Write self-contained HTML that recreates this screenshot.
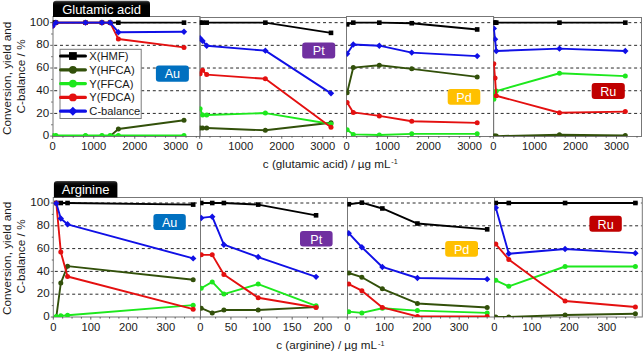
<!DOCTYPE html><html><head><meta charset="utf-8"><title>chart</title>
<style>html,body{margin:0;padding:0;background:#fff;}svg{display:block;}text{font-family:"Liberation Sans", sans-serif;}</style></head><body>
<svg width="644" height="353" viewBox="0 0 644 353">
<defs><linearGradient id="tg" x1="0" y1="0" x2="0" y2="1"><stop offset="0" stop-color="#555"/><stop offset="0.12" stop-color="#111"/><stop offset="0.3" stop-color="#000"/><stop offset="1" stop-color="#000"/></linearGradient></defs>
<rect width="644" height="353" fill="#fff"/>
<clipPath id="c00"><rect x="52.7" y="17" width="147" height="119.1"/></clipPath>
<clipPath id="c01"><rect x="199.7" y="17" width="146.8" height="119.1"/></clipPath>
<clipPath id="c02"><rect x="346.5" y="17" width="146.9" height="119.1"/></clipPath>
<clipPath id="c03"><rect x="493.4" y="17" width="148" height="119.1"/></clipPath>
<line x1="54.2" y1="113.41" x2="199.2" y2="113.41" stroke="#2a2a2a" stroke-width="1" stroke-dasharray="3 2.8"/>
<line x1="54.2" y1="90.72" x2="199.2" y2="90.72" stroke="#2a2a2a" stroke-width="1" stroke-dasharray="3 2.8"/>
<line x1="54.2" y1="68.03" x2="199.2" y2="68.03" stroke="#2a2a2a" stroke-width="1" stroke-dasharray="3 2.8"/>
<line x1="54.2" y1="45.34" x2="199.2" y2="45.34" stroke="#2a2a2a" stroke-width="1" stroke-dasharray="3 2.8"/>
<line x1="54.2" y1="22.65" x2="199.2" y2="22.65" stroke="#2a2a2a" stroke-width="1" stroke-dasharray="3 2.8"/>
<line x1="201.2" y1="113.41" x2="346" y2="113.41" stroke="#2a2a2a" stroke-width="1" stroke-dasharray="3 2.8"/>
<line x1="201.2" y1="90.72" x2="346" y2="90.72" stroke="#2a2a2a" stroke-width="1" stroke-dasharray="3 2.8"/>
<line x1="201.2" y1="68.03" x2="346" y2="68.03" stroke="#2a2a2a" stroke-width="1" stroke-dasharray="3 2.8"/>
<line x1="201.2" y1="45.34" x2="346" y2="45.34" stroke="#2a2a2a" stroke-width="1" stroke-dasharray="3 2.8"/>
<line x1="201.2" y1="22.65" x2="346" y2="22.65" stroke="#2a2a2a" stroke-width="1" stroke-dasharray="3 2.8"/>
<line x1="348" y1="113.41" x2="492.9" y2="113.41" stroke="#2a2a2a" stroke-width="1" stroke-dasharray="3 2.8"/>
<line x1="348" y1="90.72" x2="492.9" y2="90.72" stroke="#2a2a2a" stroke-width="1" stroke-dasharray="3 2.8"/>
<line x1="348" y1="68.03" x2="492.9" y2="68.03" stroke="#2a2a2a" stroke-width="1" stroke-dasharray="3 2.8"/>
<line x1="348" y1="45.34" x2="492.9" y2="45.34" stroke="#2a2a2a" stroke-width="1" stroke-dasharray="3 2.8"/>
<line x1="348" y1="22.65" x2="492.9" y2="22.65" stroke="#2a2a2a" stroke-width="1" stroke-dasharray="3 2.8"/>
<line x1="494.9" y1="113.41" x2="640.9" y2="113.41" stroke="#2a2a2a" stroke-width="1" stroke-dasharray="3 2.8"/>
<line x1="494.9" y1="90.72" x2="640.9" y2="90.72" stroke="#2a2a2a" stroke-width="1" stroke-dasharray="3 2.8"/>
<line x1="494.9" y1="68.03" x2="640.9" y2="68.03" stroke="#2a2a2a" stroke-width="1" stroke-dasharray="3 2.8"/>
<line x1="494.9" y1="45.34" x2="640.9" y2="45.34" stroke="#2a2a2a" stroke-width="1" stroke-dasharray="3 2.8"/>
<line x1="494.9" y1="22.65" x2="640.9" y2="22.65" stroke="#2a2a2a" stroke-width="1" stroke-dasharray="3 2.8"/>
<rect x="53" y="16.5" width="147" height="120" fill="none" stroke="#777777" stroke-width="1"/>
<rect x="200" y="17.5" width="146.5" height="119" fill="none" stroke="#777777" stroke-width="1"/>
<rect x="346.5" y="16.5" width="147.1" height="120" fill="none" stroke="#777777" stroke-width="1"/>
<rect x="493.6" y="17.5" width="147.9" height="119" fill="none" stroke="#777777" stroke-width="1"/>
<line x1="50.2" y1="136.1" x2="52.7" y2="136.1" stroke="#555" stroke-width="0.9"/>
<line x1="51.2" y1="124.75" x2="52.7" y2="124.75" stroke="#555" stroke-width="0.9"/>
<line x1="50.2" y1="113.41" x2="52.7" y2="113.41" stroke="#555" stroke-width="0.9"/>
<line x1="51.2" y1="102.06" x2="52.7" y2="102.06" stroke="#555" stroke-width="0.9"/>
<line x1="50.2" y1="90.72" x2="52.7" y2="90.72" stroke="#555" stroke-width="0.9"/>
<line x1="51.2" y1="79.38" x2="52.7" y2="79.38" stroke="#555" stroke-width="0.9"/>
<line x1="50.2" y1="68.03" x2="52.7" y2="68.03" stroke="#555" stroke-width="0.9"/>
<line x1="51.2" y1="56.69" x2="52.7" y2="56.69" stroke="#555" stroke-width="0.9"/>
<line x1="50.2" y1="45.34" x2="52.7" y2="45.34" stroke="#555" stroke-width="0.9"/>
<line x1="51.2" y1="34" x2="52.7" y2="34" stroke="#555" stroke-width="0.9"/>
<line x1="50.2" y1="22.65" x2="52.7" y2="22.65" stroke="#555" stroke-width="0.9"/>
<text x="49.1" y="139.2" font-size="11.6" text-anchor="end" fill="#1a1a1a">0</text>
<text x="49.1" y="116.51" font-size="11.6" text-anchor="end" fill="#1a1a1a">20</text>
<text x="49.1" y="93.82" font-size="11.6" text-anchor="end" fill="#1a1a1a">40</text>
<text x="49.1" y="71.13" font-size="11.6" text-anchor="end" fill="#1a1a1a">60</text>
<text x="49.1" y="48.44" font-size="11.6" text-anchor="end" fill="#1a1a1a">80</text>
<text x="49.1" y="25.75" font-size="11.6" text-anchor="end" fill="#1a1a1a">100</text>
<line x1="52.7" y1="136.1" x2="52.7" y2="138.7" stroke="#555" stroke-width="0.9"/>
<line x1="62.96" y1="136.1" x2="62.96" y2="137.7" stroke="#555" stroke-width="0.9"/>
<line x1="73.22" y1="136.1" x2="73.22" y2="137.7" stroke="#555" stroke-width="0.9"/>
<line x1="83.47" y1="136.1" x2="83.47" y2="137.7" stroke="#555" stroke-width="0.9"/>
<line x1="93.73" y1="136.1" x2="93.73" y2="138.7" stroke="#555" stroke-width="0.9"/>
<line x1="103.99" y1="136.1" x2="103.99" y2="137.7" stroke="#555" stroke-width="0.9"/>
<line x1="114.25" y1="136.1" x2="114.25" y2="137.7" stroke="#555" stroke-width="0.9"/>
<line x1="124.5" y1="136.1" x2="124.5" y2="137.7" stroke="#555" stroke-width="0.9"/>
<line x1="134.76" y1="136.1" x2="134.76" y2="138.7" stroke="#555" stroke-width="0.9"/>
<line x1="145.02" y1="136.1" x2="145.02" y2="137.7" stroke="#555" stroke-width="0.9"/>
<line x1="155.27" y1="136.1" x2="155.27" y2="137.7" stroke="#555" stroke-width="0.9"/>
<line x1="165.53" y1="136.1" x2="165.53" y2="137.7" stroke="#555" stroke-width="0.9"/>
<line x1="175.79" y1="136.1" x2="175.79" y2="138.7" stroke="#555" stroke-width="0.9"/>
<line x1="186.05" y1="136.1" x2="186.05" y2="137.7" stroke="#555" stroke-width="0.9"/>
<line x1="196.31" y1="136.1" x2="196.31" y2="137.7" stroke="#555" stroke-width="0.9"/>
<text x="52.7" y="150.3" font-size="11.2" text-anchor="middle" fill="#1a1a1a">0</text>
<text x="93.73" y="150.3" font-size="11.2" text-anchor="middle" fill="#1a1a1a">1000</text>
<text x="134.76" y="150.3" font-size="11.2" text-anchor="middle" fill="#1a1a1a">2000</text>
<text x="175.79" y="150.3" font-size="11.2" text-anchor="middle" fill="#1a1a1a">3000</text>
<line x1="199.7" y1="136.1" x2="199.7" y2="138.7" stroke="#555" stroke-width="0.9"/>
<line x1="209.96" y1="136.1" x2="209.96" y2="137.7" stroke="#555" stroke-width="0.9"/>
<line x1="220.21" y1="136.1" x2="220.21" y2="137.7" stroke="#555" stroke-width="0.9"/>
<line x1="230.47" y1="136.1" x2="230.47" y2="137.7" stroke="#555" stroke-width="0.9"/>
<line x1="240.73" y1="136.1" x2="240.73" y2="138.7" stroke="#555" stroke-width="0.9"/>
<line x1="250.99" y1="136.1" x2="250.99" y2="137.7" stroke="#555" stroke-width="0.9"/>
<line x1="261.25" y1="136.1" x2="261.25" y2="137.7" stroke="#555" stroke-width="0.9"/>
<line x1="271.5" y1="136.1" x2="271.5" y2="137.7" stroke="#555" stroke-width="0.9"/>
<line x1="281.76" y1="136.1" x2="281.76" y2="138.7" stroke="#555" stroke-width="0.9"/>
<line x1="292.02" y1="136.1" x2="292.02" y2="137.7" stroke="#555" stroke-width="0.9"/>
<line x1="302.27" y1="136.1" x2="302.27" y2="137.7" stroke="#555" stroke-width="0.9"/>
<line x1="312.53" y1="136.1" x2="312.53" y2="137.7" stroke="#555" stroke-width="0.9"/>
<line x1="322.79" y1="136.1" x2="322.79" y2="138.7" stroke="#555" stroke-width="0.9"/>
<line x1="333.05" y1="136.1" x2="333.05" y2="137.7" stroke="#555" stroke-width="0.9"/>
<line x1="343.3" y1="136.1" x2="343.3" y2="137.7" stroke="#555" stroke-width="0.9"/>
<text x="199.7" y="150.3" font-size="11.2" text-anchor="middle" fill="#1a1a1a">0</text>
<text x="240.73" y="150.3" font-size="11.2" text-anchor="middle" fill="#1a1a1a">1000</text>
<text x="281.76" y="150.3" font-size="11.2" text-anchor="middle" fill="#1a1a1a">2000</text>
<text x="322.79" y="150.3" font-size="11.2" text-anchor="middle" fill="#1a1a1a">3000</text>
<line x1="346.5" y1="136.1" x2="346.5" y2="138.7" stroke="#555" stroke-width="0.9"/>
<line x1="356.76" y1="136.1" x2="356.76" y2="137.7" stroke="#555" stroke-width="0.9"/>
<line x1="367.01" y1="136.1" x2="367.01" y2="137.7" stroke="#555" stroke-width="0.9"/>
<line x1="377.27" y1="136.1" x2="377.27" y2="137.7" stroke="#555" stroke-width="0.9"/>
<line x1="387.53" y1="136.1" x2="387.53" y2="138.7" stroke="#555" stroke-width="0.9"/>
<line x1="397.79" y1="136.1" x2="397.79" y2="137.7" stroke="#555" stroke-width="0.9"/>
<line x1="408.05" y1="136.1" x2="408.05" y2="137.7" stroke="#555" stroke-width="0.9"/>
<line x1="418.3" y1="136.1" x2="418.3" y2="137.7" stroke="#555" stroke-width="0.9"/>
<line x1="428.56" y1="136.1" x2="428.56" y2="138.7" stroke="#555" stroke-width="0.9"/>
<line x1="438.82" y1="136.1" x2="438.82" y2="137.7" stroke="#555" stroke-width="0.9"/>
<line x1="449.07" y1="136.1" x2="449.07" y2="137.7" stroke="#555" stroke-width="0.9"/>
<line x1="459.33" y1="136.1" x2="459.33" y2="137.7" stroke="#555" stroke-width="0.9"/>
<line x1="469.59" y1="136.1" x2="469.59" y2="138.7" stroke="#555" stroke-width="0.9"/>
<line x1="479.85" y1="136.1" x2="479.85" y2="137.7" stroke="#555" stroke-width="0.9"/>
<line x1="490.11" y1="136.1" x2="490.11" y2="137.7" stroke="#555" stroke-width="0.9"/>
<text x="346.5" y="150.3" font-size="11.2" text-anchor="middle" fill="#1a1a1a">0</text>
<text x="387.53" y="150.3" font-size="11.2" text-anchor="middle" fill="#1a1a1a">1000</text>
<text x="428.56" y="150.3" font-size="11.2" text-anchor="middle" fill="#1a1a1a">2000</text>
<text x="469.59" y="150.3" font-size="11.2" text-anchor="middle" fill="#1a1a1a">3000</text>
<line x1="493.4" y1="136.1" x2="493.4" y2="138.7" stroke="#555" stroke-width="0.9"/>
<line x1="503.66" y1="136.1" x2="503.66" y2="137.7" stroke="#555" stroke-width="0.9"/>
<line x1="513.91" y1="136.1" x2="513.91" y2="137.7" stroke="#555" stroke-width="0.9"/>
<line x1="524.17" y1="136.1" x2="524.17" y2="137.7" stroke="#555" stroke-width="0.9"/>
<line x1="534.43" y1="136.1" x2="534.43" y2="138.7" stroke="#555" stroke-width="0.9"/>
<line x1="544.69" y1="136.1" x2="544.69" y2="137.7" stroke="#555" stroke-width="0.9"/>
<line x1="554.94" y1="136.1" x2="554.94" y2="137.7" stroke="#555" stroke-width="0.9"/>
<line x1="565.2" y1="136.1" x2="565.2" y2="137.7" stroke="#555" stroke-width="0.9"/>
<line x1="575.46" y1="136.1" x2="575.46" y2="138.7" stroke="#555" stroke-width="0.9"/>
<line x1="585.72" y1="136.1" x2="585.72" y2="137.7" stroke="#555" stroke-width="0.9"/>
<line x1="595.97" y1="136.1" x2="595.97" y2="137.7" stroke="#555" stroke-width="0.9"/>
<line x1="606.23" y1="136.1" x2="606.23" y2="137.7" stroke="#555" stroke-width="0.9"/>
<line x1="616.49" y1="136.1" x2="616.49" y2="138.7" stroke="#555" stroke-width="0.9"/>
<line x1="626.75" y1="136.1" x2="626.75" y2="137.7" stroke="#555" stroke-width="0.9"/>
<line x1="637" y1="136.1" x2="637" y2="137.7" stroke="#555" stroke-width="0.9"/>
<text x="493.4" y="150.3" font-size="11.2" text-anchor="middle" fill="#1a1a1a">0</text>
<text x="534.43" y="150.3" font-size="11.2" text-anchor="middle" fill="#1a1a1a">1000</text>
<text x="575.46" y="150.3" font-size="11.2" text-anchor="middle" fill="#1a1a1a">2000</text>
<text x="616.49" y="150.3" font-size="11.2" text-anchor="middle" fill="#1a1a1a">3000</text>
<g clip-path="url(#c00)">
<polyline points="52.7,22.65 55.9,22.65 85.52,22.65 101.94,22.65 110.14,22.65 118.35,22.65 184,22.65" fill="none" stroke="#000000" stroke-width="1.9" stroke-linejoin="round"/>
<rect x="50.4" y="20.35" width="4.6" height="4.6" fill="#000000"/>
<rect x="53.6" y="20.35" width="4.6" height="4.6" fill="#000000"/>
<rect x="83.22" y="20.35" width="4.6" height="4.6" fill="#000000"/>
<rect x="99.64" y="20.35" width="4.6" height="4.6" fill="#000000"/>
<rect x="107.84" y="20.35" width="4.6" height="4.6" fill="#000000"/>
<rect x="116.05" y="20.35" width="4.6" height="4.6" fill="#000000"/>
<rect x="181.7" y="20.35" width="4.6" height="4.6" fill="#000000"/>
<polyline points="52.7,136.1 55.9,136.1 85.52,136.1 101.94,136.1 110.14,136.1 118.35,128.95 184,120.22" fill="none" stroke="#32500a" stroke-width="1.9" stroke-linejoin="round"/>
<circle cx="52.7" cy="136.1" r="2.5" fill="#32500a"/>
<circle cx="55.9" cy="136.1" r="2.5" fill="#32500a"/>
<circle cx="85.52" cy="136.1" r="2.5" fill="#32500a"/>
<circle cx="101.94" cy="136.1" r="2.5" fill="#32500a"/>
<circle cx="110.14" cy="136.1" r="2.5" fill="#32500a"/>
<circle cx="118.35" cy="128.95" r="2.5" fill="#32500a"/>
<circle cx="184" cy="120.22" r="2.5" fill="#32500a"/>
<polyline points="52.7,135.53 55.9,135.53 85.52,135.53 101.94,135.53 110.14,135.53 118.35,135.53 184,135.53" fill="none" stroke="#1de81d" stroke-width="1.9" stroke-linejoin="round"/>
<circle cx="52.7" cy="135.53" r="2.5" fill="#1de81d"/>
<circle cx="55.9" cy="135.53" r="2.5" fill="#1de81d"/>
<circle cx="85.52" cy="135.53" r="2.5" fill="#1de81d"/>
<circle cx="101.94" cy="135.53" r="2.5" fill="#1de81d"/>
<circle cx="110.14" cy="135.53" r="2.5" fill="#1de81d"/>
<circle cx="118.35" cy="135.53" r="2.5" fill="#1de81d"/>
<circle cx="184" cy="135.53" r="2.5" fill="#1de81d"/>
<polyline points="52.7,26.05 55.9,22.65 85.52,22.65 101.94,22.65 110.14,22.65 118.35,38.99 184,47.38" fill="none" stroke="#e41010" stroke-width="1.9" stroke-linejoin="round"/>
<circle cx="52.7" cy="26.05" r="2.5" fill="#e41010"/>
<circle cx="55.9" cy="22.65" r="2.5" fill="#e41010"/>
<circle cx="85.52" cy="22.65" r="2.5" fill="#e41010"/>
<circle cx="101.94" cy="22.65" r="2.5" fill="#e41010"/>
<circle cx="110.14" cy="22.65" r="2.5" fill="#e41010"/>
<circle cx="118.35" cy="38.99" r="2.5" fill="#e41010"/>
<circle cx="184" cy="47.38" r="2.5" fill="#e41010"/>
<polyline points="52.7,26.05 55.9,22.65 85.52,22.65 101.94,22.65 110.14,22.65 118.35,32.18 184,31.73" fill="none" stroke="#1010e6" stroke-width="1.9" stroke-linejoin="round"/>
<path d="M52.7 22.85L55.9 26.05L52.7 29.25L49.5 26.05Z" fill="#1010e6"/>
<path d="M55.9 19.45L59.1 22.65L55.9 25.85L52.7 22.65Z" fill="#1010e6"/>
<path d="M85.52 19.45L88.72 22.65L85.52 25.85L82.32 22.65Z" fill="#1010e6"/>
<path d="M101.94 19.45L105.14 22.65L101.94 25.85L98.74 22.65Z" fill="#1010e6"/>
<path d="M110.14 19.45L113.34 22.65L110.14 25.85L106.94 22.65Z" fill="#1010e6"/>
<path d="M118.35 28.98L121.55 32.18L118.35 35.38L115.15 32.18Z" fill="#1010e6"/>
<path d="M184 28.53L187.2 31.73L184 34.93L180.8 31.73Z" fill="#1010e6"/>
</g>
<rect x="155.9" y="65.4" width="33" height="16.4" rx="3" fill="#0070c0"/>
<text x="172.4" y="78.3" font-size="12.6" text-anchor="middle" fill="#fff">Au</text>
<g clip-path="url(#c01)">
<polyline points="200.11,22.65 202.57,22.65 206.68,22.65 265.35,22.65 331,32.86" fill="none" stroke="#000000" stroke-width="1.9" stroke-linejoin="round"/>
<rect x="197.81" y="20.35" width="4.6" height="4.6" fill="#000000"/>
<rect x="200.27" y="20.35" width="4.6" height="4.6" fill="#000000"/>
<rect x="204.38" y="20.35" width="4.6" height="4.6" fill="#000000"/>
<rect x="263.05" y="20.35" width="4.6" height="4.6" fill="#000000"/>
<rect x="328.7" y="30.56" width="4.6" height="4.6" fill="#000000"/>
<polyline points="200.11,128.05 202.57,128.05 206.68,128.05 265.35,130.31 331,122.71" fill="none" stroke="#32500a" stroke-width="1.9" stroke-linejoin="round"/>
<circle cx="200.11" cy="128.05" r="2.5" fill="#32500a"/>
<circle cx="202.57" cy="128.05" r="2.5" fill="#32500a"/>
<circle cx="206.68" cy="128.05" r="2.5" fill="#32500a"/>
<circle cx="265.35" cy="130.31" r="2.5" fill="#32500a"/>
<circle cx="331" cy="122.71" r="2.5" fill="#32500a"/>
<polyline points="200.11,108.87 202.57,115 206.68,115 265.35,113.07 331,123.96" fill="none" stroke="#1de81d" stroke-width="1.9" stroke-linejoin="round"/>
<circle cx="200.11" cy="108.87" r="2.5" fill="#1de81d"/>
<circle cx="202.57" cy="115" r="2.5" fill="#1de81d"/>
<circle cx="206.68" cy="115" r="2.5" fill="#1de81d"/>
<circle cx="265.35" cy="113.07" r="2.5" fill="#1de81d"/>
<circle cx="331" cy="123.96" r="2.5" fill="#1de81d"/>
<polyline points="200.11,73.7 202.57,70.3 206.68,74.61 265.35,78.81 331,127.36" fill="none" stroke="#e41010" stroke-width="1.9" stroke-linejoin="round"/>
<circle cx="200.11" cy="73.7" r="2.5" fill="#e41010"/>
<circle cx="202.57" cy="70.3" r="2.5" fill="#e41010"/>
<circle cx="206.68" cy="74.61" r="2.5" fill="#e41010"/>
<circle cx="265.35" cy="78.81" r="2.5" fill="#e41010"/>
<circle cx="331" cy="127.36" r="2.5" fill="#e41010"/>
<polyline points="200.11,38.19 202.57,40.92 206.68,45.68 265.35,50.67 331,93.33" fill="none" stroke="#1010e6" stroke-width="1.9" stroke-linejoin="round"/>
<path d="M200.11 34.99L203.31 38.19L200.11 41.39L196.91 38.19Z" fill="#1010e6"/>
<path d="M202.57 37.72L205.77 40.92L202.57 44.12L199.37 40.92Z" fill="#1010e6"/>
<path d="M206.68 42.48L209.88 45.68L206.68 48.88L203.48 45.68Z" fill="#1010e6"/>
<path d="M265.35 47.47L268.55 50.67L265.35 53.87L262.15 50.67Z" fill="#1010e6"/>
<path d="M331 90.13L334.2 93.33L331 96.53L327.8 93.33Z" fill="#1010e6"/>
</g>
<rect x="302.2" y="42.6" width="33" height="15.8" rx="3" fill="#7030a0"/>
<text x="318.7" y="55.2" font-size="12.6" text-anchor="middle" fill="#fff">Pt</text>
<g clip-path="url(#c02)">
<polyline points="347.12,24.35 353.27,22.65 379.32,22.65 411.74,23.22 477.18,29.46" fill="none" stroke="#000000" stroke-width="1.9" stroke-linejoin="round"/>
<rect x="344.82" y="22.05" width="4.6" height="4.6" fill="#000000"/>
<rect x="350.97" y="20.35" width="4.6" height="4.6" fill="#000000"/>
<rect x="377.02" y="20.35" width="4.6" height="4.6" fill="#000000"/>
<rect x="409.44" y="20.92" width="4.6" height="4.6" fill="#000000"/>
<rect x="474.88" y="27.16" width="4.6" height="4.6" fill="#000000"/>
<polyline points="347.12,92.76 353.27,67.58 379.32,65.31 411.74,68.82 477.18,76.88" fill="none" stroke="#32500a" stroke-width="1.9" stroke-linejoin="round"/>
<circle cx="347.12" cy="92.76" r="2.5" fill="#32500a"/>
<circle cx="353.27" cy="67.58" r="2.5" fill="#32500a"/>
<circle cx="379.32" cy="65.31" r="2.5" fill="#32500a"/>
<circle cx="411.74" cy="68.82" r="2.5" fill="#32500a"/>
<circle cx="477.18" cy="76.88" r="2.5" fill="#32500a"/>
<polyline points="347.12,129.86 353.27,134.4 379.32,134.97 411.74,133.83 477.18,133.83" fill="none" stroke="#1de81d" stroke-width="1.9" stroke-linejoin="round"/>
<circle cx="347.12" cy="129.86" r="2.5" fill="#1de81d"/>
<circle cx="353.27" cy="134.4" r="2.5" fill="#1de81d"/>
<circle cx="379.32" cy="134.97" r="2.5" fill="#1de81d"/>
<circle cx="411.74" cy="133.83" r="2.5" fill="#1de81d"/>
<circle cx="477.18" cy="133.83" r="2.5" fill="#1de81d"/>
<polyline points="347.12,102.52 353.27,112.39 379.32,115.91 411.74,121.24 477.18,122.83" fill="none" stroke="#e41010" stroke-width="1.9" stroke-linejoin="round"/>
<circle cx="347.12" cy="102.52" r="2.5" fill="#e41010"/>
<circle cx="353.27" cy="112.39" r="2.5" fill="#e41010"/>
<circle cx="379.32" cy="115.91" r="2.5" fill="#e41010"/>
<circle cx="411.74" cy="121.24" r="2.5" fill="#e41010"/>
<circle cx="477.18" cy="122.83" r="2.5" fill="#e41010"/>
<polyline points="347.12,53.74 353.27,44.43 379.32,45.68 411.74,52.6 477.18,56.12" fill="none" stroke="#1010e6" stroke-width="1.9" stroke-linejoin="round"/>
<path d="M347.12 50.54L350.32 53.74L347.12 56.94L343.92 53.74Z" fill="#1010e6"/>
<path d="M353.27 41.23L356.47 44.43L353.27 47.63L350.07 44.43Z" fill="#1010e6"/>
<path d="M379.32 42.48L382.52 45.68L379.32 48.88L376.12 45.68Z" fill="#1010e6"/>
<path d="M411.74 49.4L414.94 52.6L411.74 55.8L408.54 52.6Z" fill="#1010e6"/>
<path d="M477.18 52.92L480.38 56.12L477.18 59.32L473.98 56.12Z" fill="#1010e6"/>
</g>
<rect x="447.7" y="89.1" width="32.6" height="15.7" rx="3" fill="#ffc000"/>
<text x="464" y="101.65" font-size="12.6" text-anchor="middle" fill="#fff">Pd</text>
<g clip-path="url(#c03)">
<polyline points="493.81,22.65 495.04,22.65 496.27,22.65 559.46,22.65 625.31,22.65" fill="none" stroke="#000000" stroke-width="1.9" stroke-linejoin="round"/>
<rect x="491.51" y="20.35" width="4.6" height="4.6" fill="#000000"/>
<rect x="492.74" y="20.35" width="4.6" height="4.6" fill="#000000"/>
<rect x="493.97" y="20.35" width="4.6" height="4.6" fill="#000000"/>
<rect x="557.16" y="20.35" width="4.6" height="4.6" fill="#000000"/>
<rect x="623.01" y="20.35" width="4.6" height="4.6" fill="#000000"/>
<polyline points="493.81,136.1 495.04,136.1 496.27,136.1 559.46,134.74 625.31,135.42" fill="none" stroke="#32500a" stroke-width="1.9" stroke-linejoin="round"/>
<circle cx="493.81" cy="136.1" r="2.5" fill="#32500a"/>
<circle cx="495.04" cy="136.1" r="2.5" fill="#32500a"/>
<circle cx="496.27" cy="136.1" r="2.5" fill="#32500a"/>
<circle cx="559.46" cy="134.74" r="2.5" fill="#32500a"/>
<circle cx="625.31" cy="135.42" r="2.5" fill="#32500a"/>
<polyline points="493.81,99.23 495.04,94.46 496.27,91.06 559.46,73.25 625.31,76.08" fill="none" stroke="#1de81d" stroke-width="1.9" stroke-linejoin="round"/>
<circle cx="493.81" cy="99.23" r="2.5" fill="#1de81d"/>
<circle cx="495.04" cy="94.46" r="2.5" fill="#1de81d"/>
<circle cx="496.27" cy="91.06" r="2.5" fill="#1de81d"/>
<circle cx="559.46" cy="73.25" r="2.5" fill="#1de81d"/>
<circle cx="625.31" cy="76.08" r="2.5" fill="#1de81d"/>
<polyline points="493.81,63.83 495.04,78.01 496.27,95.71 559.46,112.73 625.31,111.59" fill="none" stroke="#e41010" stroke-width="1.9" stroke-linejoin="round"/>
<circle cx="493.81" cy="63.83" r="2.5" fill="#e41010"/>
<circle cx="495.04" cy="78.01" r="2.5" fill="#e41010"/>
<circle cx="496.27" cy="95.71" r="2.5" fill="#e41010"/>
<circle cx="559.46" cy="112.73" r="2.5" fill="#e41010"/>
<circle cx="625.31" cy="111.59" r="2.5" fill="#e41010"/>
<polyline points="493.81,28.55 495.04,39.21 496.27,51.01 559.46,48.63 625.31,51.01" fill="none" stroke="#1010e6" stroke-width="1.9" stroke-linejoin="round"/>
<path d="M493.81 25.35L497.01 28.55L493.81 31.75L490.61 28.55Z" fill="#1010e6"/>
<path d="M495.04 36.01L498.24 39.21L495.04 42.41L491.84 39.21Z" fill="#1010e6"/>
<path d="M496.27 47.81L499.47 51.01L496.27 54.21L493.07 51.01Z" fill="#1010e6"/>
<path d="M559.46 45.43L562.66 48.63L559.46 51.83L556.26 48.63Z" fill="#1010e6"/>
<path d="M625.31 47.81L628.51 51.01L625.31 54.21L622.11 51.01Z" fill="#1010e6"/>
</g>
<rect x="591.7" y="83.1" width="33.1" height="15.9" rx="3" fill="#c00000"/>
<text x="608.25" y="95.75" font-size="12.6" text-anchor="middle" fill="#fff">Ru</text>
<path d="M53 17.1L53 4Q53 0.8 56.2 0.8L146.8 0.8Q150 0.8 150 4L150 17.1Z" fill="url(#tg)"/>
<text x="101.5" y="13.8" font-size="13" text-anchor="middle" fill="#fff">Glutamic acid</text>
<text x="330.3" y="167.8" font-size="11.7" text-anchor="middle" fill="#1a1a1a">c (glutamic acid) / µg mL<tspan font-size="7.2" dx="0.9" dy="-3.6">-1</tspan></text>
<text transform="translate(10.9 78.3) rotate(-90)" font-size="11.8" text-anchor="middle" fill="#1a1a1a">Conversion, yield and</text>
<text transform="translate(25.2 76.4) rotate(-90)" font-size="11.8" text-anchor="middle" fill="#1a1a1a">C-balance / %</text>
<rect x="60" y="49.3" width="81.2" height="69.2" fill="#fff" stroke="#7a7a7a" stroke-width="1"/>
<line x1="60.6" y1="56" x2="85.4" y2="56" stroke="#000000" stroke-width="3.2" stroke-linecap="round"/>
<rect x="69" y="52.1" width="7.8" height="7.8" fill="#000000"/>
<text x="89.3" y="60" font-size="11.2" fill="#1a1a1a">X(HMF)</text>
<line x1="60.6" y1="69.8" x2="85.4" y2="69.8" stroke="#32500a" stroke-width="3.2" stroke-linecap="round"/>
<circle cx="72.9" cy="69.8" r="3.9" fill="#32500a"/>
<text x="89.3" y="73.8" font-size="11.2" fill="#1a1a1a">Y(HFCA)</text>
<line x1="60.6" y1="83.6" x2="85.4" y2="83.6" stroke="#1de81d" stroke-width="3.2" stroke-linecap="round"/>
<circle cx="72.9" cy="83.6" r="3.9" fill="#1de81d"/>
<text x="89.3" y="87.6" font-size="11.2" fill="#1a1a1a">Y(FFCA)</text>
<line x1="60.6" y1="97.4" x2="85.4" y2="97.4" stroke="#e41010" stroke-width="3.2" stroke-linecap="round"/>
<circle cx="72.9" cy="97.4" r="3.9" fill="#e41010"/>
<text x="89.3" y="101.4" font-size="11.2" fill="#1a1a1a">Y(FDCA)</text>
<line x1="60.6" y1="111.2" x2="85.4" y2="111.2" stroke="#1010e6" stroke-width="3.2" stroke-linecap="round"/>
<path d="M72.9 106.7L77.4 111.2L72.9 115.7L68.4 111.2Z" fill="#1010e6"/>
<text x="89.3" y="115.2" font-size="11.2" fill="#1a1a1a">C-balance</text>
<clipPath id="c10"><rect x="53.3" y="197.5" width="147" height="119.5"/></clipPath>
<clipPath id="c11"><rect x="200.3" y="197.5" width="147" height="119.5"/></clipPath>
<clipPath id="c12"><rect x="347.3" y="197.5" width="147.1" height="119.5"/></clipPath>
<clipPath id="c13"><rect x="494.4" y="197.5" width="147.9" height="119.5"/></clipPath>
<line x1="54.8" y1="294.2" x2="199.8" y2="294.2" stroke="#2a2a2a" stroke-width="1" stroke-dasharray="3 2.8"/>
<line x1="54.8" y1="271.4" x2="199.8" y2="271.4" stroke="#2a2a2a" stroke-width="1" stroke-dasharray="3 2.8"/>
<line x1="54.8" y1="248.6" x2="199.8" y2="248.6" stroke="#2a2a2a" stroke-width="1" stroke-dasharray="3 2.8"/>
<line x1="54.8" y1="225.8" x2="199.8" y2="225.8" stroke="#2a2a2a" stroke-width="1" stroke-dasharray="3 2.8"/>
<line x1="54.8" y1="203" x2="199.8" y2="203" stroke="#2a2a2a" stroke-width="1" stroke-dasharray="3 2.8"/>
<line x1="201.8" y1="294.2" x2="346.8" y2="294.2" stroke="#2a2a2a" stroke-width="1" stroke-dasharray="3 2.8"/>
<line x1="201.8" y1="271.4" x2="346.8" y2="271.4" stroke="#2a2a2a" stroke-width="1" stroke-dasharray="3 2.8"/>
<line x1="201.8" y1="248.6" x2="346.8" y2="248.6" stroke="#2a2a2a" stroke-width="1" stroke-dasharray="3 2.8"/>
<line x1="201.8" y1="225.8" x2="346.8" y2="225.8" stroke="#2a2a2a" stroke-width="1" stroke-dasharray="3 2.8"/>
<line x1="201.8" y1="203" x2="346.8" y2="203" stroke="#2a2a2a" stroke-width="1" stroke-dasharray="3 2.8"/>
<line x1="348.8" y1="294.2" x2="493.9" y2="294.2" stroke="#2a2a2a" stroke-width="1" stroke-dasharray="3 2.8"/>
<line x1="348.8" y1="271.4" x2="493.9" y2="271.4" stroke="#2a2a2a" stroke-width="1" stroke-dasharray="3 2.8"/>
<line x1="348.8" y1="248.6" x2="493.9" y2="248.6" stroke="#2a2a2a" stroke-width="1" stroke-dasharray="3 2.8"/>
<line x1="348.8" y1="225.8" x2="493.9" y2="225.8" stroke="#2a2a2a" stroke-width="1" stroke-dasharray="3 2.8"/>
<line x1="348.8" y1="203" x2="493.9" y2="203" stroke="#2a2a2a" stroke-width="1" stroke-dasharray="3 2.8"/>
<line x1="495.9" y1="294.2" x2="641.8" y2="294.2" stroke="#2a2a2a" stroke-width="1" stroke-dasharray="3 2.8"/>
<line x1="495.9" y1="271.4" x2="641.8" y2="271.4" stroke="#2a2a2a" stroke-width="1" stroke-dasharray="3 2.8"/>
<line x1="495.9" y1="248.6" x2="641.8" y2="248.6" stroke="#2a2a2a" stroke-width="1" stroke-dasharray="3 2.8"/>
<line x1="495.9" y1="225.8" x2="641.8" y2="225.8" stroke="#2a2a2a" stroke-width="1" stroke-dasharray="3 2.8"/>
<line x1="495.9" y1="203" x2="641.8" y2="203" stroke="#2a2a2a" stroke-width="1" stroke-dasharray="3 2.8"/>
<rect x="53.3" y="197.5" width="147.2" height="119.5" fill="none" stroke="#777777" stroke-width="1"/>
<rect x="200.5" y="197.5" width="147" height="119.5" fill="none" stroke="#777777" stroke-width="1"/>
<rect x="347.5" y="197.5" width="147" height="119.5" fill="none" stroke="#777777" stroke-width="1"/>
<rect x="494.5" y="197.5" width="147.8" height="119.5" fill="none" stroke="#777777" stroke-width="1"/>
<line x1="50.8" y1="317" x2="53.3" y2="317" stroke="#555" stroke-width="0.9"/>
<line x1="51.8" y1="305.6" x2="53.3" y2="305.6" stroke="#555" stroke-width="0.9"/>
<line x1="50.8" y1="294.2" x2="53.3" y2="294.2" stroke="#555" stroke-width="0.9"/>
<line x1="51.8" y1="282.8" x2="53.3" y2="282.8" stroke="#555" stroke-width="0.9"/>
<line x1="50.8" y1="271.4" x2="53.3" y2="271.4" stroke="#555" stroke-width="0.9"/>
<line x1="51.8" y1="260" x2="53.3" y2="260" stroke="#555" stroke-width="0.9"/>
<line x1="50.8" y1="248.6" x2="53.3" y2="248.6" stroke="#555" stroke-width="0.9"/>
<line x1="51.8" y1="237.2" x2="53.3" y2="237.2" stroke="#555" stroke-width="0.9"/>
<line x1="50.8" y1="225.8" x2="53.3" y2="225.8" stroke="#555" stroke-width="0.9"/>
<line x1="51.8" y1="214.4" x2="53.3" y2="214.4" stroke="#555" stroke-width="0.9"/>
<line x1="50.8" y1="203" x2="53.3" y2="203" stroke="#555" stroke-width="0.9"/>
<text x="49.7" y="320.1" font-size="11.6" text-anchor="end" fill="#1a1a1a">0</text>
<text x="49.7" y="297.3" font-size="11.6" text-anchor="end" fill="#1a1a1a">20</text>
<text x="49.7" y="274.5" font-size="11.6" text-anchor="end" fill="#1a1a1a">40</text>
<text x="49.7" y="251.7" font-size="11.6" text-anchor="end" fill="#1a1a1a">60</text>
<text x="49.7" y="228.9" font-size="11.6" text-anchor="end" fill="#1a1a1a">80</text>
<text x="49.7" y="206.1" font-size="11.6" text-anchor="end" fill="#1a1a1a">100</text>
<line x1="53.3" y1="317" x2="53.3" y2="319.6" stroke="#555" stroke-width="0.9"/>
<line x1="62.67" y1="317" x2="62.67" y2="318.6" stroke="#555" stroke-width="0.9"/>
<line x1="72.05" y1="317" x2="72.05" y2="318.6" stroke="#555" stroke-width="0.9"/>
<line x1="81.42" y1="317" x2="81.42" y2="318.6" stroke="#555" stroke-width="0.9"/>
<line x1="90.8" y1="317" x2="90.8" y2="319.6" stroke="#555" stroke-width="0.9"/>
<line x1="100.17" y1="317" x2="100.17" y2="318.6" stroke="#555" stroke-width="0.9"/>
<line x1="109.55" y1="317" x2="109.55" y2="318.6" stroke="#555" stroke-width="0.9"/>
<line x1="118.92" y1="317" x2="118.92" y2="318.6" stroke="#555" stroke-width="0.9"/>
<line x1="128.3" y1="317" x2="128.3" y2="319.6" stroke="#555" stroke-width="0.9"/>
<line x1="137.68" y1="317" x2="137.68" y2="318.6" stroke="#555" stroke-width="0.9"/>
<line x1="147.05" y1="317" x2="147.05" y2="318.6" stroke="#555" stroke-width="0.9"/>
<line x1="156.43" y1="317" x2="156.43" y2="318.6" stroke="#555" stroke-width="0.9"/>
<line x1="165.8" y1="317" x2="165.8" y2="319.6" stroke="#555" stroke-width="0.9"/>
<line x1="175.18" y1="317" x2="175.18" y2="318.6" stroke="#555" stroke-width="0.9"/>
<line x1="184.55" y1="317" x2="184.55" y2="318.6" stroke="#555" stroke-width="0.9"/>
<line x1="193.93" y1="317" x2="193.93" y2="318.6" stroke="#555" stroke-width="0.9"/>
<text x="53.3" y="331.2" font-size="11.2" text-anchor="middle" fill="#1a1a1a">0</text>
<text x="90.8" y="331.2" font-size="11.2" text-anchor="middle" fill="#1a1a1a">100</text>
<text x="128.3" y="331.2" font-size="11.2" text-anchor="middle" fill="#1a1a1a">200</text>
<text x="165.8" y="331.2" font-size="11.2" text-anchor="middle" fill="#1a1a1a">300</text>
<line x1="200.3" y1="317" x2="200.3" y2="319.6" stroke="#555" stroke-width="0.9"/>
<line x1="215.61" y1="317" x2="215.61" y2="318.6" stroke="#555" stroke-width="0.9"/>
<line x1="230.93" y1="317" x2="230.93" y2="319.6" stroke="#555" stroke-width="0.9"/>
<line x1="246.24" y1="317" x2="246.24" y2="318.6" stroke="#555" stroke-width="0.9"/>
<line x1="261.55" y1="317" x2="261.55" y2="319.6" stroke="#555" stroke-width="0.9"/>
<line x1="276.86" y1="317" x2="276.86" y2="318.6" stroke="#555" stroke-width="0.9"/>
<line x1="292.18" y1="317" x2="292.18" y2="319.6" stroke="#555" stroke-width="0.9"/>
<line x1="307.49" y1="317" x2="307.49" y2="318.6" stroke="#555" stroke-width="0.9"/>
<line x1="322.8" y1="317" x2="322.8" y2="319.6" stroke="#555" stroke-width="0.9"/>
<line x1="338.11" y1="317" x2="338.11" y2="318.6" stroke="#555" stroke-width="0.9"/>
<text x="200.3" y="331.2" font-size="11.2" text-anchor="middle" fill="#1a1a1a">0</text>
<text x="230.93" y="331.2" font-size="11.2" text-anchor="middle" fill="#1a1a1a">50</text>
<text x="261.55" y="331.2" font-size="11.2" text-anchor="middle" fill="#1a1a1a">100</text>
<text x="292.18" y="331.2" font-size="11.2" text-anchor="middle" fill="#1a1a1a">150</text>
<text x="322.8" y="331.2" font-size="11.2" text-anchor="middle" fill="#1a1a1a">200</text>
<line x1="347.3" y1="317" x2="347.3" y2="319.6" stroke="#555" stroke-width="0.9"/>
<line x1="356.62" y1="317" x2="356.62" y2="318.6" stroke="#555" stroke-width="0.9"/>
<line x1="365.95" y1="317" x2="365.95" y2="318.6" stroke="#555" stroke-width="0.9"/>
<line x1="375.28" y1="317" x2="375.28" y2="318.6" stroke="#555" stroke-width="0.9"/>
<line x1="384.6" y1="317" x2="384.6" y2="319.6" stroke="#555" stroke-width="0.9"/>
<line x1="393.93" y1="317" x2="393.93" y2="318.6" stroke="#555" stroke-width="0.9"/>
<line x1="403.25" y1="317" x2="403.25" y2="318.6" stroke="#555" stroke-width="0.9"/>
<line x1="412.58" y1="317" x2="412.58" y2="318.6" stroke="#555" stroke-width="0.9"/>
<line x1="421.9" y1="317" x2="421.9" y2="319.6" stroke="#555" stroke-width="0.9"/>
<line x1="431.23" y1="317" x2="431.23" y2="318.6" stroke="#555" stroke-width="0.9"/>
<line x1="440.55" y1="317" x2="440.55" y2="318.6" stroke="#555" stroke-width="0.9"/>
<line x1="449.88" y1="317" x2="449.88" y2="318.6" stroke="#555" stroke-width="0.9"/>
<line x1="459.2" y1="317" x2="459.2" y2="319.6" stroke="#555" stroke-width="0.9"/>
<line x1="468.52" y1="317" x2="468.52" y2="318.6" stroke="#555" stroke-width="0.9"/>
<line x1="477.85" y1="317" x2="477.85" y2="318.6" stroke="#555" stroke-width="0.9"/>
<line x1="487.18" y1="317" x2="487.18" y2="318.6" stroke="#555" stroke-width="0.9"/>
<text x="347.3" y="331.2" font-size="11.2" text-anchor="middle" fill="#1a1a1a">0</text>
<text x="384.6" y="331.2" font-size="11.2" text-anchor="middle" fill="#1a1a1a">100</text>
<text x="421.9" y="331.2" font-size="11.2" text-anchor="middle" fill="#1a1a1a">200</text>
<text x="459.2" y="331.2" font-size="11.2" text-anchor="middle" fill="#1a1a1a">300</text>
<line x1="494.4" y1="317" x2="494.4" y2="319.6" stroke="#555" stroke-width="0.9"/>
<line x1="503.77" y1="317" x2="503.77" y2="318.6" stroke="#555" stroke-width="0.9"/>
<line x1="513.15" y1="317" x2="513.15" y2="318.6" stroke="#555" stroke-width="0.9"/>
<line x1="522.52" y1="317" x2="522.52" y2="318.6" stroke="#555" stroke-width="0.9"/>
<line x1="531.9" y1="317" x2="531.9" y2="319.6" stroke="#555" stroke-width="0.9"/>
<line x1="541.27" y1="317" x2="541.27" y2="318.6" stroke="#555" stroke-width="0.9"/>
<line x1="550.65" y1="317" x2="550.65" y2="318.6" stroke="#555" stroke-width="0.9"/>
<line x1="560.02" y1="317" x2="560.02" y2="318.6" stroke="#555" stroke-width="0.9"/>
<line x1="569.4" y1="317" x2="569.4" y2="319.6" stroke="#555" stroke-width="0.9"/>
<line x1="578.77" y1="317" x2="578.77" y2="318.6" stroke="#555" stroke-width="0.9"/>
<line x1="588.15" y1="317" x2="588.15" y2="318.6" stroke="#555" stroke-width="0.9"/>
<line x1="597.52" y1="317" x2="597.52" y2="318.6" stroke="#555" stroke-width="0.9"/>
<line x1="606.9" y1="317" x2="606.9" y2="319.6" stroke="#555" stroke-width="0.9"/>
<line x1="616.27" y1="317" x2="616.27" y2="318.6" stroke="#555" stroke-width="0.9"/>
<line x1="625.65" y1="317" x2="625.65" y2="318.6" stroke="#555" stroke-width="0.9"/>
<line x1="635.02" y1="317" x2="635.02" y2="318.6" stroke="#555" stroke-width="0.9"/>
<text x="494.4" y="331.2" font-size="11.2" text-anchor="middle" fill="#1a1a1a">0</text>
<text x="531.9" y="331.2" font-size="11.2" text-anchor="middle" fill="#1a1a1a">100</text>
<text x="569.4" y="331.2" font-size="11.2" text-anchor="middle" fill="#1a1a1a">200</text>
<text x="606.9" y="331.2" font-size="11.2" text-anchor="middle" fill="#1a1a1a">300</text>
<g clip-path="url(#c10)">
<polyline points="56.3,203 60.8,203 67.55,203 193.18,204.6" fill="none" stroke="#000000" stroke-width="1.9" stroke-linejoin="round"/>
<rect x="54" y="200.7" width="4.6" height="4.6" fill="#000000"/>
<rect x="58.5" y="200.7" width="4.6" height="4.6" fill="#000000"/>
<rect x="65.25" y="200.7" width="4.6" height="4.6" fill="#000000"/>
<rect x="190.88" y="202.3" width="4.6" height="4.6" fill="#000000"/>
<polyline points="56.3,317 60.8,283.03 67.55,266.16 193.18,279.72" fill="none" stroke="#32500a" stroke-width="1.9" stroke-linejoin="round"/>
<circle cx="56.3" cy="317" r="2.5" fill="#32500a"/>
<circle cx="60.8" cy="283.03" r="2.5" fill="#32500a"/>
<circle cx="67.55" cy="266.16" r="2.5" fill="#32500a"/>
<circle cx="193.18" cy="279.72" r="2.5" fill="#32500a"/>
<polyline points="56.3,316.43 60.8,315.86 67.55,315.18 193.18,305.14" fill="none" stroke="#1de81d" stroke-width="1.9" stroke-linejoin="round"/>
<circle cx="56.3" cy="316.43" r="2.5" fill="#1de81d"/>
<circle cx="60.8" cy="315.86" r="2.5" fill="#1de81d"/>
<circle cx="67.55" cy="315.18" r="2.5" fill="#1de81d"/>
<circle cx="193.18" cy="305.14" r="2.5" fill="#1de81d"/>
<polyline points="56.3,203 60.8,252.02 67.55,276.53 193.18,309.13" fill="none" stroke="#e41010" stroke-width="1.9" stroke-linejoin="round"/>
<circle cx="56.3" cy="203" r="2.5" fill="#e41010"/>
<circle cx="60.8" cy="252.02" r="2.5" fill="#e41010"/>
<circle cx="67.55" cy="276.53" r="2.5" fill="#e41010"/>
<circle cx="193.18" cy="309.13" r="2.5" fill="#e41010"/>
<polyline points="56.3,203.34 60.8,218.5 67.55,224.32 193.18,258.4" fill="none" stroke="#1010e6" stroke-width="1.9" stroke-linejoin="round"/>
<path d="M56.3 200.14L59.5 203.34L56.3 206.54L53.1 203.34Z" fill="#1010e6"/>
<path d="M60.8 215.3L64 218.5L60.8 221.7L57.6 218.5Z" fill="#1010e6"/>
<path d="M67.55 221.12L70.75 224.32L67.55 227.52L64.35 224.32Z" fill="#1010e6"/>
<path d="M193.18 255.2L196.38 258.4L193.18 261.6L189.98 258.4Z" fill="#1010e6"/>
</g>
<rect x="153.4" y="214" width="32.4" height="15.9" rx="3" fill="#0070c0"/>
<text x="169.6" y="226.65" font-size="12.6" text-anchor="middle" fill="#fff">Au</text>
<g clip-path="url(#c11)">
<polyline points="201.22,203 212.24,203 223.88,203 258.18,204.6 316.06,215.31" fill="none" stroke="#000000" stroke-width="1.9" stroke-linejoin="round"/>
<rect x="198.92" y="200.7" width="4.6" height="4.6" fill="#000000"/>
<rect x="209.94" y="200.7" width="4.6" height="4.6" fill="#000000"/>
<rect x="221.58" y="200.7" width="4.6" height="4.6" fill="#000000"/>
<rect x="255.88" y="202.3" width="4.6" height="4.6" fill="#000000"/>
<rect x="313.76" y="213.01" width="4.6" height="4.6" fill="#000000"/>
<polyline points="201.22,308.22 212.24,312.9 223.88,310.05 258.18,310.05 316.06,307.08" fill="none" stroke="#32500a" stroke-width="1.9" stroke-linejoin="round"/>
<circle cx="201.22" cy="308.22" r="2.5" fill="#32500a"/>
<circle cx="212.24" cy="312.9" r="2.5" fill="#32500a"/>
<circle cx="223.88" cy="310.05" r="2.5" fill="#32500a"/>
<circle cx="258.18" cy="310.05" r="2.5" fill="#32500a"/>
<circle cx="316.06" cy="307.08" r="2.5" fill="#32500a"/>
<polyline points="201.22,288.27 212.24,281.89 223.88,294.09 258.18,284.05 316.06,305.83" fill="none" stroke="#1de81d" stroke-width="1.9" stroke-linejoin="round"/>
<circle cx="201.22" cy="288.27" r="2.5" fill="#1de81d"/>
<circle cx="212.24" cy="281.89" r="2.5" fill="#1de81d"/>
<circle cx="223.88" cy="294.09" r="2.5" fill="#1de81d"/>
<circle cx="258.18" cy="284.05" r="2.5" fill="#1de81d"/>
<circle cx="316.06" cy="305.83" r="2.5" fill="#1de81d"/>
<polyline points="201.22,254.87 212.24,254.87 223.88,274.48 258.18,297.73 316.06,307.54" fill="none" stroke="#e41010" stroke-width="1.9" stroke-linejoin="round"/>
<circle cx="201.22" cy="254.87" r="2.5" fill="#e41010"/>
<circle cx="212.24" cy="254.87" r="2.5" fill="#e41010"/>
<circle cx="223.88" cy="274.48" r="2.5" fill="#e41010"/>
<circle cx="258.18" cy="297.73" r="2.5" fill="#e41010"/>
<circle cx="316.06" cy="307.54" r="2.5" fill="#e41010"/>
<polyline points="201.22,217.93 212.24,216.68 223.88,244.72 258.18,257.04 316.06,276.87" fill="none" stroke="#1010e6" stroke-width="1.9" stroke-linejoin="round"/>
<path d="M201.22 214.73L204.42 217.93L201.22 221.13L198.02 217.93Z" fill="#1010e6"/>
<path d="M212.24 213.48L215.44 216.68L212.24 219.88L209.04 216.68Z" fill="#1010e6"/>
<path d="M223.88 241.52L227.08 244.72L223.88 247.92L220.68 244.72Z" fill="#1010e6"/>
<path d="M258.18 253.84L261.38 257.04L258.18 260.24L254.98 257.04Z" fill="#1010e6"/>
<path d="M316.06 273.67L319.26 276.87L316.06 280.07L312.86 276.87Z" fill="#1010e6"/>
</g>
<rect x="300" y="231" width="32.6" height="15.6" rx="3" fill="#7030a0"/>
<text x="316.3" y="243.5" font-size="12.6" text-anchor="middle" fill="#fff">Pt</text>
<g clip-path="url(#c12)">
<polyline points="348.72,204.25 361.85,202.66 382.36,208.47 417.42,223.52 487.18,229.33" fill="none" stroke="#000000" stroke-width="1.9" stroke-linejoin="round"/>
<rect x="346.42" y="201.95" width="4.6" height="4.6" fill="#000000"/>
<rect x="359.55" y="200.36" width="4.6" height="4.6" fill="#000000"/>
<rect x="380.06" y="206.17" width="4.6" height="4.6" fill="#000000"/>
<rect x="415.12" y="221.22" width="4.6" height="4.6" fill="#000000"/>
<rect x="484.88" y="227.03" width="4.6" height="4.6" fill="#000000"/>
<polyline points="348.72,273 361.85,277.21 382.36,288.84 417.42,303.43 487.18,307.54" fill="none" stroke="#32500a" stroke-width="1.9" stroke-linejoin="round"/>
<circle cx="348.72" cy="273" r="2.5" fill="#32500a"/>
<circle cx="361.85" cy="277.21" r="2.5" fill="#32500a"/>
<circle cx="382.36" cy="288.84" r="2.5" fill="#32500a"/>
<circle cx="417.42" cy="303.43" r="2.5" fill="#32500a"/>
<circle cx="487.18" cy="307.54" r="2.5" fill="#32500a"/>
<polyline points="348.72,311.64 361.85,312.9 382.36,308.22 417.42,310.62 487.18,312.9" fill="none" stroke="#1de81d" stroke-width="1.9" stroke-linejoin="round"/>
<circle cx="348.72" cy="311.64" r="2.5" fill="#1de81d"/>
<circle cx="361.85" cy="312.9" r="2.5" fill="#1de81d"/>
<circle cx="382.36" cy="308.22" r="2.5" fill="#1de81d"/>
<circle cx="417.42" cy="310.62" r="2.5" fill="#1de81d"/>
<circle cx="487.18" cy="312.9" r="2.5" fill="#1de81d"/>
<polyline points="348.72,284.05 361.85,290.67 382.36,307.42 417.42,316.43 487.18,316.43" fill="none" stroke="#e41010" stroke-width="1.9" stroke-linejoin="round"/>
<circle cx="348.72" cy="284.05" r="2.5" fill="#e41010"/>
<circle cx="361.85" cy="290.67" r="2.5" fill="#e41010"/>
<circle cx="382.36" cy="307.42" r="2.5" fill="#e41010"/>
<circle cx="417.42" cy="316.43" r="2.5" fill="#e41010"/>
<circle cx="487.18" cy="316.43" r="2.5" fill="#e41010"/>
<polyline points="348.72,233.21 361.85,247.23 382.36,266.95 417.42,278.01 487.18,279.15" fill="none" stroke="#1010e6" stroke-width="1.9" stroke-linejoin="round"/>
<path d="M348.72 230.01L351.92 233.21L348.72 236.41L345.52 233.21Z" fill="#1010e6"/>
<path d="M361.85 244.03L365.05 247.23L361.85 250.43L358.65 247.23Z" fill="#1010e6"/>
<path d="M382.36 263.75L385.56 266.95L382.36 270.15L379.16 266.95Z" fill="#1010e6"/>
<path d="M417.42 274.81L420.62 278.01L417.42 281.21L414.22 278.01Z" fill="#1010e6"/>
<path d="M487.18 275.95L490.38 279.15L487.18 282.35L483.98 279.15Z" fill="#1010e6"/>
</g>
<rect x="445.2" y="241" width="32.8" height="15.8" rx="3" fill="#ffc000"/>
<text x="461.6" y="253.6" font-size="12.6" text-anchor="middle" fill="#fff">Pd</text>
<g clip-path="url(#c13)">
<polyline points="495.79,203 508.8,203 565.09,203 635.4,203" fill="none" stroke="#000000" stroke-width="1.9" stroke-linejoin="round"/>
<rect x="493.49" y="200.7" width="4.6" height="4.6" fill="#000000"/>
<rect x="506.5" y="200.7" width="4.6" height="4.6" fill="#000000"/>
<rect x="562.79" y="200.7" width="4.6" height="4.6" fill="#000000"/>
<rect x="633.1" y="200.7" width="4.6" height="4.6" fill="#000000"/>
<polyline points="495.79,317 508.8,317 565.09,314.95 635.4,313.69" fill="none" stroke="#32500a" stroke-width="1.9" stroke-linejoin="round"/>
<circle cx="495.79" cy="317" r="2.5" fill="#32500a"/>
<circle cx="508.8" cy="317" r="2.5" fill="#32500a"/>
<circle cx="565.09" cy="314.95" r="2.5" fill="#32500a"/>
<circle cx="635.4" cy="313.69" r="2.5" fill="#32500a"/>
<polyline points="495.79,280.29 508.8,286.33 565.09,266.5 635.4,266.5" fill="none" stroke="#1de81d" stroke-width="1.9" stroke-linejoin="round"/>
<circle cx="495.79" cy="280.29" r="2.5" fill="#1de81d"/>
<circle cx="508.8" cy="286.33" r="2.5" fill="#1de81d"/>
<circle cx="565.09" cy="266.5" r="2.5" fill="#1de81d"/>
<circle cx="635.4" cy="266.5" r="2.5" fill="#1de81d"/>
<polyline points="495.79,244.04 508.8,259.43 565.09,301.04 635.4,306.97" fill="none" stroke="#e41010" stroke-width="1.9" stroke-linejoin="round"/>
<circle cx="495.79" cy="244.04" r="2.5" fill="#e41010"/>
<circle cx="508.8" cy="259.43" r="2.5" fill="#e41010"/>
<circle cx="565.09" cy="301.04" r="2.5" fill="#e41010"/>
<circle cx="635.4" cy="306.97" r="2.5" fill="#e41010"/>
<polyline points="495.79,207.79 508.8,253.73 565.09,249.06 635.4,253.16" fill="none" stroke="#1010e6" stroke-width="1.9" stroke-linejoin="round"/>
<path d="M495.79 204.59L498.99 207.79L495.79 210.99L492.59 207.79Z" fill="#1010e6"/>
<path d="M508.8 250.53L512 253.73L508.8 256.93L505.6 253.73Z" fill="#1010e6"/>
<path d="M565.09 245.86L568.29 249.06L565.09 252.26L561.89 249.06Z" fill="#1010e6"/>
<path d="M635.4 249.96L638.6 253.16L635.4 256.36L632.2 253.16Z" fill="#1010e6"/>
</g>
<rect x="589.4" y="215.8" width="32.4" height="16" rx="3" fill="#c00000"/>
<text x="605.6" y="228.5" font-size="12.6" text-anchor="middle" fill="#fff">Ru</text>
<path d="M53.9 197.6L53.9 184.1Q53.9 180.9 57.1 180.9L114.2 180.9Q117.4 180.9 117.4 184.1L117.4 197.6Z" fill="url(#tg)"/>
<text x="85.6" y="193.9" font-size="13" text-anchor="middle" fill="#fff">Arginine</text>
<text x="330.3" y="349.4" font-size="11.7" text-anchor="middle" fill="#1a1a1a">c (arginine) / µg mL<tspan font-size="7.2" dx="0.9" dy="-3.6">-1</tspan></text>
<text transform="translate(10.9 258.3) rotate(-90)" font-size="11.8" text-anchor="middle" fill="#1a1a1a">Conversion, yield and</text>
<text transform="translate(25.2 256.4) rotate(-90)" font-size="11.8" text-anchor="middle" fill="#1a1a1a">C-balance / %</text>
</svg></body></html>
